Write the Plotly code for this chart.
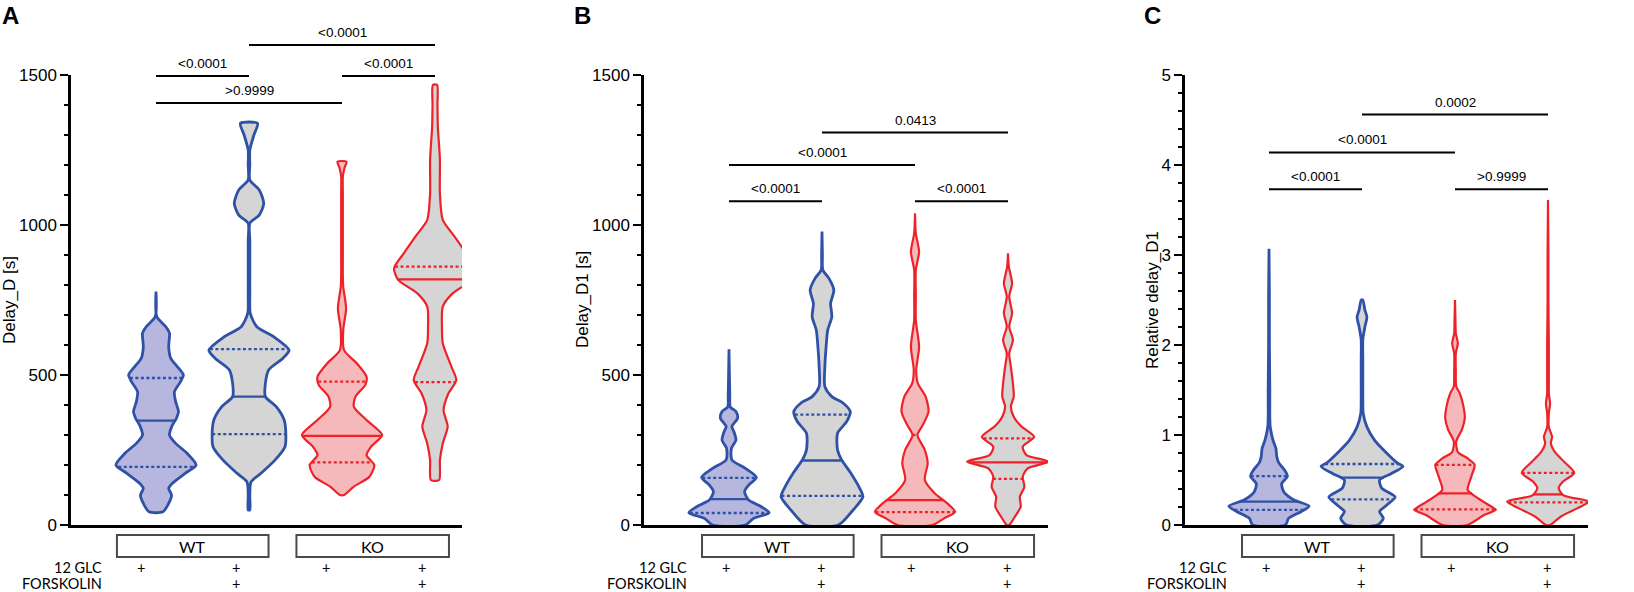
import numpy as np
import plotly.graph_objects as go

# ------------------------------------------------------------------ data
conditions = ["WT 12 GLC", "WT 12 GLC + FORSKOLIN", "KO 12 GLC", "KO 12 GLC + FORSKOLIN"]
genotypes = ["WT", "KO"]
row_labels = ["12 GLC", "FORSKOLIN"]
glc_marks = ["+", "+", "+", "+"]
fsk_marks = ["", "+", "", "+"]

panel_letters = ["A", "B", "C"]
y_titles = ["Delay_D [s]", "Delay_D1 [s]", "Relative delay_D1"]
y_max = [1500, 1500, 5]
y_major = [[0, 500, 1000, 1500], [0, 500, 1000, 1500], [0, 1, 2, 3, 4, 5]]
y_minor_step = [100, 100, 0.2]

# violin density profiles: values (top -> bottom) and relative density widths (0..1)
A_wt_v = [778, 694, 661, 639, 594, 556, 528, 500, 478, 444, 411, 378, 356, 333, 300, 272, 239, 200, 172, 139, 122, 100, 72, 44]
A_wt_w = [0.0, 0.02, 0.24, 0.33, 0.31, 0.36, 0.52, 0.67, 0.60, 0.45, 0.48, 0.55, 0.50, 0.40, 0.33, 0.48, 0.76, 0.98, 0.71, 0.40, 0.31, 0.38, 0.31, 0.17]
A_wtf_v = [1339, 1300, 1250, 1200, 1150, 1117, 1072, 1033, 1006, 950, 850, 760, 706, 661, 628, 583, 556, 517, 472, 428, 394, 350, 306, 261, 217, 172, 144, 100, 50]
A_wtf_w = [0.21, 0.12, 0.02, 0.02, 0.02, 0.25, 0.36, 0.25, 0.02, 0.02, 0.02, 0.02, 0.03, 0.19, 0.60, 0.98, 0.83, 0.48, 0.40, 0.40, 0.67, 0.86, 0.90, 0.88, 0.64, 0.29, 0.05, 0.02, 0.02]
A_ko_v = [1211, 1190, 1161, 1100, 1000, 900, 830, 794, 722, 650, 583, 539, 494, 467, 428, 394, 350, 300, 261, 233, 200, 161, 128, 100]
A_ko_w = [0.11, 0.06, 0.02, 0.02, 0.02, 0.02, 0.02, 0.03, 0.10, 0.03, 0.05, 0.36, 0.60, 0.57, 0.33, 0.29, 0.60, 0.98, 0.71, 0.60, 0.79, 0.67, 0.29, 0.05]
A_kof_v = [1467, 1400, 1328, 1217, 1106, 1017, 961, 906, 856, 817, 772, 728, 661, 606, 528, 483, 439, 383, 328, 272, 217, 150]
A_kof_w = [0.05, 0.06, 0.07, 0.12, 0.12, 0.19, 0.48, 0.76, 1.00, 0.90, 0.43, 0.19, 0.17, 0.19, 0.40, 0.52, 0.33, 0.21, 0.31, 0.19, 0.12, 0.10]

B_wt_v = [586, 500, 430, 394, 378, 356, 328, 311, 283, 256, 217, 189, 159, 133, 111, 83, 61, 41, 22, 0]
B_wt_w = [0.0, 0.01, 0.02, 0.03, 0.17, 0.21, 0.07, 0.12, 0.17, 0.06, 0.07, 0.40, 0.67, 0.48, 0.38, 0.48, 0.79, 0.98, 0.60, 0.40]
B_wtf_v = [978, 900, 850, 822, 783, 739, 694, 650, 594, 528, 461, 428, 406, 378, 344, 306, 250, 217, 172, 128, 94, 50, 0]
B_wtf_w = [0.0, 0.01, 0.02, 0.17, 0.29, 0.21, 0.24, 0.14, 0.10, 0.07, 0.07, 0.24, 0.52, 0.69, 0.60, 0.38, 0.38, 0.48, 0.71, 0.90, 1.00, 0.76, 0.40]
B_ko_v = [1039, 972, 911, 850, 760, 683, 594, 517, 472, 428, 378, 333, 300, 250, 206, 150, 106, 72, 44, 22, 0]
B_ko_w = [0.0, 0.02, 0.10, 0.02, 0.02, 0.02, 0.10, 0.03, 0.07, 0.26, 0.33, 0.19, 0.06, 0.24, 0.31, 0.24, 0.48, 0.79, 0.98, 0.71, 0.43]
B_kof_v = [906, 861, 806, 761, 706, 661, 617, 572, 528, 472, 428, 394, 361, 328, 294, 261, 233, 211, 189, 161, 128, 94, 61, 28, 0]
B_kof_w = [0.0, 0.02, 0.10, 0.03, 0.10, 0.03, 0.12, 0.03, 0.07, 0.12, 0.14, 0.07, 0.14, 0.33, 0.64, 0.36, 0.45, 1.00, 0.48, 0.36, 0.40, 0.29, 0.31, 0.17, 0.03]

C_wt_v = [3.07, 2.5, 2.0, 1.5, 1.2, 1.09, 0.94, 0.85, 0.76, 0.69, 0.61, 0.54, 0.46, 0.37, 0.28, 0.21, 0.15, 0.074, 0.0]
C_wt_w = [0.0, 0.01, 0.01, 0.02, 0.02, 0.03, 0.10, 0.17, 0.19, 0.24, 0.38, 0.45, 0.31, 0.36, 0.60, 0.98, 0.79, 0.48, 0.40]
C_wtf_v = [2.50, 2.39, 2.31, 2.20, 2.06, 1.85, 1.6, 1.4, 1.24, 1.09, 0.94, 0.80, 0.69, 0.65, 0.57, 0.50, 0.41, 0.31, 0.22, 0.15, 0.074, 0.0]
C_wtf_w = [0.02, 0.07, 0.12, 0.07, 0.02, 0.02, 0.02, 0.02, 0.03, 0.12, 0.31, 0.60, 0.86, 1.00, 0.71, 0.43, 0.48, 0.81, 0.60, 0.43, 0.52, 0.38]
C_ko_v = [2.50, 2.3, 2.13, 2.02, 1.91, 1.7, 1.54, 1.46, 1.31, 1.19, 1.06, 0.93, 0.81, 0.74, 0.67, 0.54, 0.39, 0.31, 0.20, 0.17, 0.11, 0.0]
C_ko_w = [0.0, 0.01, 0.02, 0.07, 0.02, 0.02, 0.03, 0.12, 0.21, 0.24, 0.17, 0.03, 0.07, 0.31, 0.48, 0.40, 0.31, 0.52, 0.90, 1.00, 0.71, 0.30]
C_kof_v = [3.61, 3.0, 2.5, 2.0, 1.6, 1.46, 1.35, 1.24, 1.09, 0.98, 0.91, 0.81, 0.70, 0.58, 0.48, 0.41, 0.33, 0.26, 0.185, 0.092, 0.0]
C_kof_w = [0.0, 0.01, 0.01, 0.02, 0.02, 0.02, 0.05, 0.02, 0.02, 0.10, 0.07, 0.17, 0.40, 0.64, 0.36, 0.26, 0.38, 1.00, 0.71, 0.31, 0.05]

# quartiles per condition: [Q1, median, Q3]
A_q = [[194, 348, 490], [303, 428, 586], [209, 297, 478], [476, 819, 861]]
B_q = [[40, 86, 157], [97, 215, 368], [43, 83, 300], [154, 209, 289]]
C_q = [[0.167, 0.26, 0.544], [0.285, 0.526, 0.678], [0.174, 0.352, 0.667], [0.252, 0.34, 0.58]]

# multiple comparisons: condition pairs (1-based), p values, bracket heights
comp_pairs = [(1, 2), (1, 3), (2, 4), (3, 4)]
A_p = ["<0.0001", ">0.9999", "<0.0001", "<0.0001"]
A_h = [1497, 1407, 1600, 1497]
B_p = ["<0.0001", "<0.0001", "0.0413", "<0.0001"]
B_h = [1079, 1200, 1308, 1079]
C_p = ["<0.0001", "<0.0001", "0.0002", ">0.9999"]
C_h = [3.73, 4.14, 4.56, 3.73]

# ------------------------------------------------------------------ style / layout
FIG_W, FIG_H = 1634, 592
M_T, M_B = 75, 67
PLOT_H = FIG_H - M_T - M_B
CAT_PX = 93.0
axis_px = [71, 644, 1185]
first_px = [156, 729, 1269]
end_px = [462, 1048, 1588]
title_px = [9, 582, 1152]
letter_px = [0, 572, 1142]
bottom_shift = [-0.13, 0.0, 0.0]
row_px = [42.0, 58.5]   # pixel offsets of the treatment rows below the x axis

BLUE = "#2f51a6"
RED = "#ee2229"
LAV = "#b6b6de"
GRAY = "#d5d5d5"
PINK = "#f6b9bb"
edge_col = [BLUE, BLUE, RED, RED]
fill_col = [LAV, GRAY, PINK, GRAY]
edge_w = [2.8, 2.8, 2.2, 2.2]
VW = 0.44  # max violin half width in category units

ARIAL = "Liberation Sans, Arial, sans-serif"
CALI = "Lato, Carlito, Calibri, sans-serif"

panel_v = [[A_wt_v, A_wtf_v, A_ko_v, A_kof_v], [B_wt_v, B_wtf_v, B_ko_v, B_kof_v], [C_wt_v, C_wtf_v, C_ko_v, C_kof_v]]
panel_w = [[A_wt_w, A_wtf_w, A_ko_w, A_kof_w], [B_wt_w, B_wtf_w, B_ko_w, B_kof_w], [C_wt_w, C_wtf_w, C_ko_w, C_kof_w]]
panel_q = [A_q, B_q, C_q]
panel_p = [A_p, B_p, C_p]
panel_h = [A_h, B_h, C_h]

fig = go.Figure()
shapes, annotations = [], []
layout = dict(width=FIG_W, height=FIG_H, margin=dict(l=0, r=0, t=M_T, b=M_B),
              paper_bgcolor="white", plot_bgcolor="white", showlegend=False)

for p in range(3):
    s = "" if p == 0 else str(p + 1)
    xa, ya = "x" + s, "y" + s
    r0 = 1 - (first_px[p] - axis_px[p]) / CAT_PX
    r1 = 1 + (end_px[p] - first_px[p]) / CAT_PX
    ymax = y_max[p]

    def xd(xv, r0=r0, r1=r1):
        return (xv - r0) / (r1 - r0)

    def yd(yv, ymax=ymax):
        return yv / ymax

    layout["xaxis" + s] = dict(domain=[axis_px[p] / FIG_W, end_px[p] / FIG_W], range=[r0, r1],
                               anchor=ya, showline=True, linecolor="black", linewidth=2.5,
                               ticks="", showticklabels=False, showgrid=False, zeroline=False,
                               fixedrange=True)
    minor_vals = [round(k * y_minor_step[p], 6) for k in range(int(round(ymax / y_minor_step[p])) + 1)]
    layout["yaxis" + s] = dict(domain=[0, 1], range=[0, ymax], anchor=xa, showline=True,
                               linecolor="black", linewidth=2.5, ticks="outside", ticklen=8,
                               tickwidth=2, tickcolor="black", tickmode="array",
                               tickvals=y_major[p], ticktext=[str(v) for v in y_major[p]],
                               tickfont=dict(family=ARIAL, size=17, color="black"),
                               minor=dict(tickmode="array", tickvals=minor_vals, ticks="outside",
                                          ticklen=4.5, tickwidth=2, tickcolor="black"),
                               showgrid=False, zeroline=False, fixedrange=True)

    # violins
    for i in range(4):
        c = i + 1
        v = np.array(panel_v[p][i], dtype=float)
        w = np.array(panel_w[p][i], dtype=float) * VW
        xs = np.concatenate([c + w[::-1], c - w, [c + w[-1]]])
        ys = np.concatenate([v[::-1], v, [v[-1]]])
        fig.add_trace(go.Scatter(x=xs, y=ys, mode="lines", fill="toself", fillcolor=fill_col[i],
                                 line=dict(color=edge_col[i], width=edge_w[i], shape="spline", smoothing=0.7),
                                 xaxis=xa, yaxis=ya, hoverinfo="skip", showlegend=False))
        for k, qv in enumerate(panel_q[p][i]):
            hw = np.interp(qv, v[::-1], w[::-1])
            fig.add_trace(go.Scatter(x=[c - hw, c + hw], y=[qv, qv], mode="lines",
                                     line=dict(color=edge_col[i], width=2.3,
                                               dash="solid" if k == 1 else "3px,2.5px"),
                                     xaxis=xa, yaxis=ya, hoverinfo="skip", showlegend=False))

    xr, yr = xa + " domain", ya + " domain"
    # significance brackets
    for (a, b), pv, h in zip(comp_pairs, panel_p[p], panel_h[p]):
        shapes.append(dict(type="line", xref=xr, yref=yr, x0=xd(a), x1=xd(b), y0=yd(h), y1=yd(h),
                           line=dict(color="black", width=2)))
        annotations.append(dict(xref=xr, yref=yr, x=xd((a + b) / 2), y=yd(h) + 12.5 / PLOT_H,
                                text=pv, showarrow=False, xanchor="center", yanchor="middle",
                                font=dict(family=ARIAL, size=13.5, color="black")))

    # genotype boxes
    sh = bottom_shift[p]
    box_spans = [(0.71, 2.34), (2.64, 4.28)]
    for g, (b0, b1) in zip(genotypes, box_spans):
        shapes.append(dict(type="rect", xref=xr, yref=yr, x0=xd(b0 + sh), x1=xd(b1 + sh),
                           y0=-32 / PLOT_H, y1=-10 / PLOT_H, line=dict(color="#4a4a4a", width=2),
                           fillcolor="white"))
        annotations.append(dict(xref=xr, yref=yr, x=xd((b0 + b1) / 2 + sh), y=-21 / PLOT_H,
                                text=g, showarrow=False, xanchor="center", yanchor="middle",
                                font=dict(family=CALI, size=16, color="black")))
    # treatment rows
    plus_x = [0.97, 1.99, 2.96, 3.99]
    for r, (lab, marks) in enumerate(zip(row_labels, [glc_marks, fsk_marks])):
        yy = -row_px[r] / PLOT_H
        annotations.append(dict(xref=xr, yref=yr, x=xd(0.56 + sh), y=yy, text=lab, showarrow=False,
                                xanchor="right", yanchor="middle", borderpad=0,
                                font=dict(family=CALI, size=14.5, color="black")))
        for px_, m in zip(plus_x, marks):
            if m:
                annotations.append(dict(xref=xr, yref=yr, x=xd(px_ + sh), y=yy, text=m,
                                        showarrow=False, xanchor="center", yanchor="middle",
                                        borderpad=0,
                                        font=dict(family=CALI, size=14.5, color="black")))

    # axis title and panel letter
    annotations.append(dict(xref="paper", yref=yr, x=title_px[p] / FIG_W, y=0.5, text=y_titles[p],
                            textangle=-90, showarrow=False, xanchor="center", yanchor="middle",
                            font=dict(family=ARIAL, size=17, color="black")))
    annotations.append(dict(xref="paper", yref=yr, x=letter_px[p] / FIG_W, y=(M_T - 15.5) / PLOT_H + 1,
                            text="<b>" + panel_letters[p] + "</b>", showarrow=False,
                            xanchor="left", yanchor="middle",
                            font=dict(family=ARIAL, size=24, color="black")))

layout["shapes"] = shapes
layout["annotations"] = annotations
fig.update_layout(**layout)
fig.write_html("out.html", config={"displayModeBar": False},
               post_script="document.body.style.margin='0';document.body.style.overflow='hidden';")
